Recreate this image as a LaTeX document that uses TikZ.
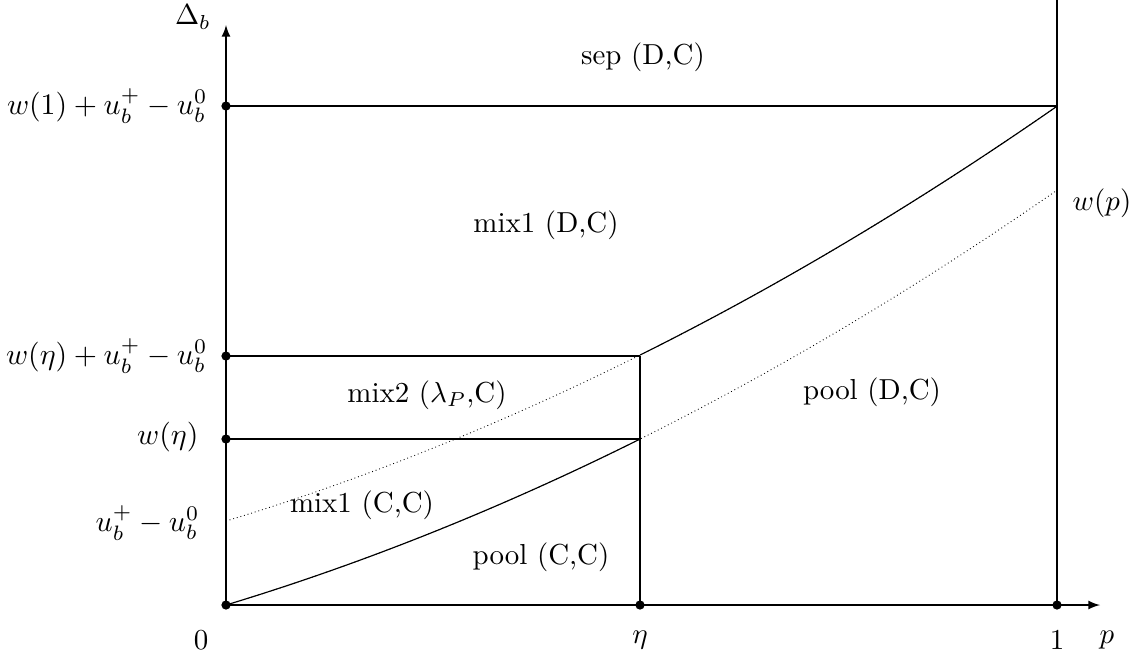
\documentclass[tikz,border=0pt]{standalone}
\begin{document}
\begin{tikzpicture}[x=0.01215cm,y=-0.01215cm,
  lbl/.style={inner sep=0pt},
  dotline/.style={densely dotted,line width=0.3pt},
  >=latex]
\useasboundingbox (0,0) rectangle (1136,659);
% coordinates
\coordinate (O) at (226,605);
\coordinate (E) at (640,605);
\coordinate (One) at (1057,605);
\coordinate (Yt) at (226,25);
\coordinate (Xt) at (1100,605);
\coordinate (A1) at (226,106);
\coordinate (B1) at (1057,106);
\coordinate (A2) at (226,356);
\coordinate (B2) at (640,356);
\coordinate (A3) at (226,439);
\coordinate (B3) at (640,439);
\coordinate (Top1) at (1057,0);
% axes
\draw[->] (O) -- (Xt);
\draw[->] (O) -- (Yt);
% lines
\draw (A1) -- (B1);
\draw (A2) -- (B2);
\draw (A3) -- (B3);
\draw (E) -- (B2);
\draw (One) -- (Top1);
% curves
\draw[dotline] plot[domain=226:1057,samples=80] (\x,{605-(252*((\x-226)/831)+162.8*((\x-226)/831)^2)});
\draw[dotline] plot[domain=226:1057,samples=80] (\x,{521-(252*((\x-226)/831)+162.8*((\x-226)/831)^2)});
\draw plot[domain=226:640,samples=60] (\x,{605-(252*((\x-226)/831)+162.8*((\x-226)/831)^2)});
\draw plot[domain=640:1057,samples=60] (\x,{521-(252*((\x-226)/831)+162.8*((\x-226)/831)^2)});
% dots
\foreach \c in {O,E,One,A1,A2,A3} \fill (\c) circle (1.6pt);
% axis labels
\node[lbl] (l0) at (201,640) {$0$};
\node[lbl] (leta) at (640,640) {$\eta$};
\node[lbl] (l1) at (1057,640) {$1$};
\node[lbl] (lp) at (1107,640) {$p$};
\node[lbl] (ld) at (193,17) {$\Delta_b$};
\node[lbl,anchor=east,scale=1.03] (y1) at (208,106) {$w(1)+u_b^+-u_b^0$};
\node[lbl,anchor=east,scale=1.03] (y2) at (208,356) {$w(\eta)+u_b^+-u_b^0$};
\node[lbl,anchor=east,scale=1.03] (y3) at (199,437) {$w(\eta)$};
\node[lbl,anchor=east,scale=1.03] (y4) at (200,523) {$u_b^+-u_b^0$};
\node[lbl] (wp) at (1102,203) {$w(p)$};
% region labels
\node[lbl] (r1) at (643,57) {sep (D,C)};
\node[lbl] (r2) at (546,225) {mix1 (D,C)};
\node[lbl] (r3) at (427,395) {mix2 ($\lambda_P$,C)};
\node[lbl] (r4) at (362,505) {mix1 (C,C)};
\node[lbl] (r5) at (541,557) {pool (C,C)};
\node[lbl] (r6) at (872,392) {pool (D,C)};
\end{tikzpicture}
\end{document}
